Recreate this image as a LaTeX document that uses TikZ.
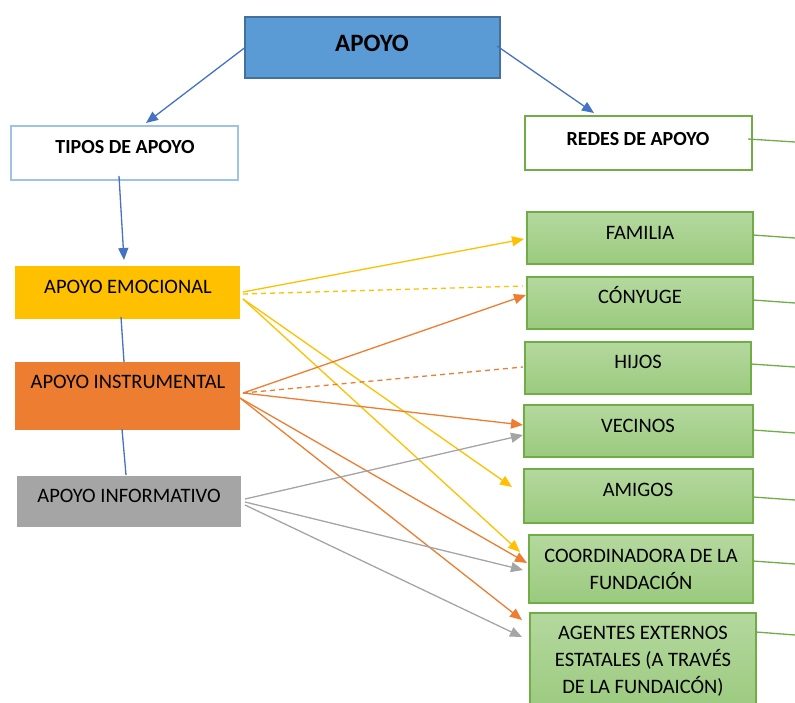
\documentclass[tikz,border=0pt]{standalone}
\usepackage{fontspec}
\setmainfont{Carlito}
\usetikzlibrary{arrows.meta}
\definecolor{cBlue}{HTML}{5B9BD5}
\definecolor{cBlueD}{HTML}{41719C}
\definecolor{cBlueL}{HTML}{9DC3E6}
\definecolor{cArrow}{HTML}{4472C4}
\definecolor{cYel}{HTML}{FFC000}
\definecolor{cOra}{HTML}{ED7D31}
\definecolor{cGry}{HTML}{A5A5A5}
\definecolor{cGrn}{HTML}{70AD47}
\definecolor{cGrnT}{HTML}{B4D89E}
\definecolor{cGrnB}{HTML}{9BCA7E}
\tikzset{
  boxbase/.style={inner sep=0pt, outer sep=0pt, anchor=north west, line width=1.2pt},
  greenbox/.style={boxbase, draw=cGrn, top color=cGrnT, bottom color=cGrnB},
  txt/.style={inner sep=0pt, align=center, font=\fontsize{20.5}{27}\selectfont},
  btxt/.style={inner sep=0pt, align=center, font=\bfseries\fontsize{20}{27}\selectfont},
  conn/.style={line width=1.3pt},
  tip/.style={-{Triangle[length=12pt,width=10pt]}},
  dsh/.style={dash pattern=on 5pt off 4pt},
}
\begin{document}
\begin{tikzpicture}[x=1pt,y=-1pt]
\useasboundingbox (0,0) rectangle (795,702);
\clip (0,0) rectangle (795,702);
% boxes
\node[boxbase, draw=cBlueD, fill=cBlue, minimum width=255pt, minimum height=61pt] (apoyo) at (245,17) {};
\node[boxbase, draw=cBlueL, fill=white, minimum width=227pt, minimum height=54pt] (tipos) at (11,126) {};
\node[boxbase, draw=cGrn, fill=white, minimum width=227pt, minimum height=54pt] (redes) at (525,116) {};
\node[greenbox, minimum width=226pt, minimum height=52pt] (fam) at (527,212) {};
\node[greenbox, minimum width=226pt, minimum height=52pt] (cony) at (527,277) {};
\node[greenbox, minimum width=226pt, minimum height=52pt] (hijos) at (525,342) {};
\node[greenbox, minimum width=229pt, minimum height=52pt] (vec) at (524,405) {};
\node[greenbox, minimum width=229pt, minimum height=54pt] (ami) at (524,469) {};
\node[greenbox, minimum width=224pt, minimum height=68pt] (coord) at (529,535) {};
\node[greenbox, minimum width=226pt, minimum height=100pt] (agent) at (530,613) {};
\node[boxbase, fill=cYel, minimum width=225pt, minimum height=53pt] (emo) at (15,266) {};
\node[boxbase, fill=cOra, minimum width=225pt, minimum height=68pt] (inst) at (15,362) {};
\node[boxbase, fill=cGry, minimum width=224pt, minimum height=51pt] (info) at (17,476) {};
% texts
\node[inner sep=0pt, font=\bfseries\fontsize{25}{30}\selectfont, anchor=base] (apoyoT) at (372,51) {APOYO};
\node[btxt, anchor=base] (tiposT) at (125,153) {TIPOS DE APOYO};
\node[btxt, anchor=base] (redesT) at (638,145) {REDES DE APOYO};
\node[txt, anchor=base] (famT) at (640,239) {FAMILIA};
\node[txt, anchor=base] (conyT) at (640,303) {CÓNYUGE};
\node[txt, anchor=base] (hijosT) at (638,368) {HIJOS};
\node[txt, anchor=base] (vecT) at (638,432) {VECINOS};
\node[txt, anchor=base] (amiT) at (638,496) {AMIGOS};
\node[txt, anchor=center] (coordT) at (641,569) {COORDINADORA DE LA\\FUNDACIÓN};
\node[txt, anchor=north] (agentT) at (643,626) {AGENTES EXTERNOS\\ESTATALES (A TRAVÉS\\DE LA FUNDAICÓN)};
\node[txt, anchor=base] (emoT) at (128,293) {APOYO EMOCIONAL};
\node[txt, anchor=base] (instT) at (128,388) {APOYO INSTRUMENTAL};
\node[txt, anchor=base] (infoT) at (129,502) {APOYO INFORMATIVO};
% free ends of the green lines
\coordinate (gR) at (795,142);
\coordinate (gF) at (795,238);
\coordinate (gC) at (795,303);
\coordinate (gH) at (795,367);
\coordinate (gV) at (795,433);
\coordinate (gA) at (795,500);
\coordinate (gCo) at (795,564);
\coordinate (gAg) at (795,635);
% blue connectors
\draw[conn, cArrow, tip] (apoyo.west) -- ([shift={(21.5,-3)}]tipos.north);
\draw[conn, cArrow, tip] ([shift={(-3,-1.5)}]apoyo.east) -- ([shift={(-44.5,-3)}]redes.north);
\draw[conn, cArrow, tip] ([shift={(-5.5,-4)}]tipos.south) -- ([shift={(-3.5,-6)}]emo.north);
\draw[conn, cArrow] ([shift={(-6.5,-2)}]emo.south) -- ([shift={(-3.5,0)}]inst.north);
\draw[conn, cArrow] ([shift={(-5.5,-1)}]inst.south) -- ([shift={(-3,-1)}]info.north);
% yellow connectors
\draw[conn, cYel, tip] ([shift={(3,-0.5)}]emo.east) -- ([shift={(-3,1)}]fam.west);
\draw[conn, cYel, dsh] ([shift={(3,1.5)}]emo.east) -- ([shift={(-4,-17)}]cony.west);
\draw[conn, cYel, tip] ([shift={(3,6.5)}]emo.east) -- ([shift={(-12,-9)}]ami.west);
\draw[conn, cYel, tip] ([shift={(3,6.5)}]emo.east) -- ([shift={(-9,-17)}]coord.west);
% orange connectors
\draw[conn, cOra, tip] ([shift={(3,-3)}]inst.east) -- ([shift={(-1,-8)}]cony.west);
\draw[conn, cOra, dsh] ([shift={(3,-3)}]inst.east) -- ([shift={(-2,-1)}]hijos.west);
\draw[conn, cOra, tip] ([shift={(3,-3)}]inst.east) -- ([shift={(-1,-6)}]vec.west);
\draw[conn, cOra, tip] ([shift={(0,2)}]inst.east) -- ([shift={(-2,-6)}]coord.west);
\draw[conn, cOra, tip] ([shift={(0,2)}]inst.east) -- ([shift={(-8,-43)}]agent.west);
% gray connectors
\draw[conn, cGry, tip] ([shift={(4,-2.5)}]info.east) -- ([shift={(-1,4)}]vec.west);
\draw[conn, cGry, tip] ([shift={(4,0.5)}]info.east) -- ([shift={(-6,1)}]coord.west);
\draw[conn, cGry, tip] ([shift={(4,3.5)}]info.east) -- ([shift={(-8,-26)}]agent.west);
% green lines leaving to the right
\draw[conn, cGrn] ([shift={(-4,-4)}]redes.east) -- (gR);
\draw[conn, cGrn] ([shift={(0,-3)}]fam.east) -- (gF);
\draw[conn, cGrn] ([shift={(0,-3)}]cony.east) -- (gC);
\draw[conn, cGrn] ([shift={(0,-4)}]hijos.east) -- (gH);
\draw[conn, cGrn] ([shift={(0,-1)}]vec.east) -- (gV);
\draw[conn, cGrn] ([shift={(0,1)}]ami.east) -- (gA);
\draw[conn, cGrn] ([shift={(0,-8)}]coord.east) -- (gCo);
\draw[conn, cGrn] ([shift={(0,-31)}]agent.east) -- (gAg);
\end{tikzpicture}
\end{document}
